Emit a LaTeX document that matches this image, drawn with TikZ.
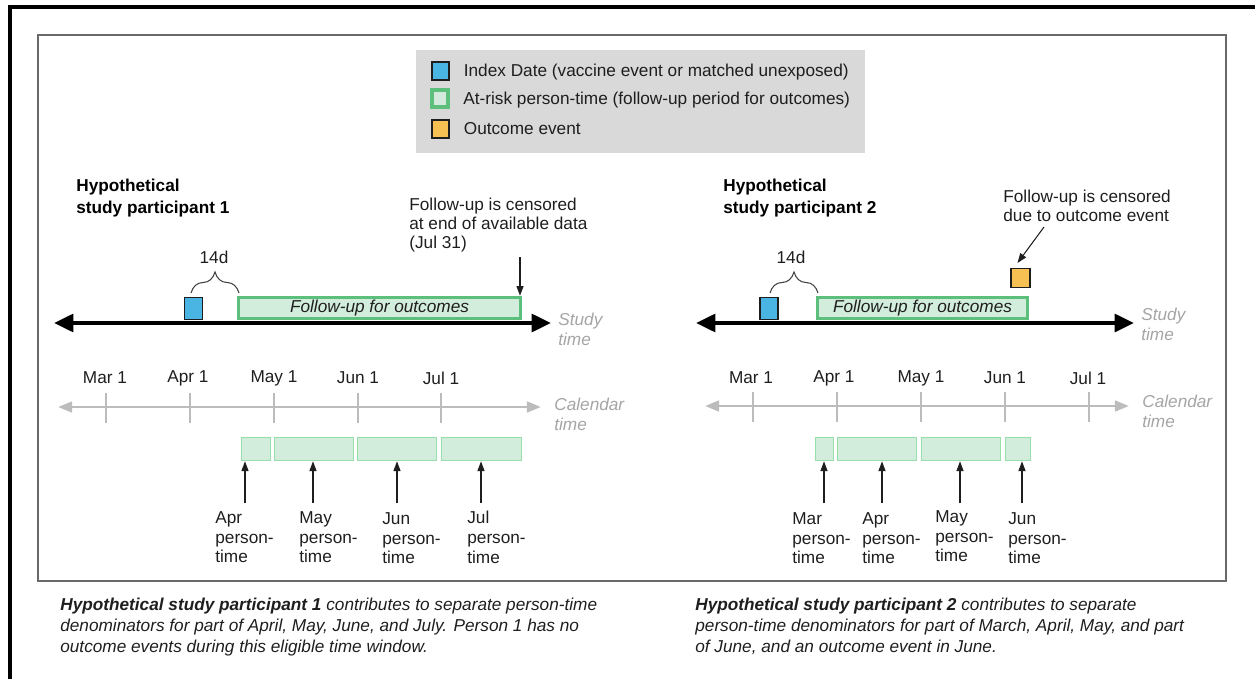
\documentclass[tikz,border=0pt]{standalone}
\usepackage{fontspec}
\setmainfont{Liberation Sans}
\usetikzlibrary{arrows.meta, positioning, decorations.pathreplacing}
\definecolor{idxblue}{RGB}{74,180,226}
\definecolor{fugreen}{RGB}{92,192,124}
\definecolor{fufill}{RGB}{210,237,220}
\definecolor{mgreen}{RGB}{150,222,170}
\definecolor{outorange}{RGB}{246,193,82}
\definecolor{leggray}{RGB}{217,217,217}
\definecolor{axisgray}{RGB}{188,188,188}
\definecolor{txtgray}{RGB}{165,165,165}
\definecolor{framegray}{RGB}{105,105,105}
\definecolor{ink}{RGB}{30,30,30}
\tikzstyle{txt} = [font=\fontsize{9.8}{11.3}\selectfont, text=ink, inner sep=0pt, align=left]
\tikzstyle{note} = [txt, font=\fontsize{9.8}{10.8}\selectfont]
\tikzstyle{ptitle} = [txt, font=\fontsize{9.8}{12.5}\selectfont\bfseries, text=black]
\tikzstyle{graytxt} = [txt, font=\fontsize{9.8}{11.3}\selectfont\itshape, text=txtgray]
\tikzstyle{caption} = [txt, font=\fontsize{9.8}{11.9}\selectfont\itshape, text=ink]
\tikzstyle{idxbox} = [rectangle, draw=ink, line width=0.6pt, fill=idxblue, inner sep=0pt, minimum width=0.36cm, minimum height=0.44cm]
\tikzstyle{outbox} = [rectangle, draw=ink, line width=0.6pt, fill=outorange, inner sep=0pt, minimum width=0.38cm, minimum height=0.38cm]
\tikzstyle{fubox} = [rectangle, draw=fugreen, line width=2pt, fill=fufill, inner sep=0pt, minimum height=0.42cm, font=\fontsize{9.8}{11}\selectfont\itshape, text=ink]
\tikzstyle{mbox} = [rectangle, draw=mgreen, line width=0.7pt, fill=fufill, inner sep=0pt, minimum height=0.47cm]
\tikzstyle{studyline} = [line width=2.3pt, {Triangle[length=11pt,width=10pt]}-{Triangle[length=11pt,width=10pt]}]
\tikzstyle{calaxis} = [axisgray, line width=1.6pt, {Triangle[length=8pt,width=6pt]}-{Triangle[length=8pt,width=6pt]}]
\tikzstyle{tick} = [axisgray, line width=0.8pt]
\tikzstyle{arrow} = [ink, line width=0.6pt, -{Triangle[length=5.5pt,width=4pt]}]
\tikzstyle{curly} = [draw=ink!85, line width=0.6pt, decorate, decoration={brace, amplitude=0.42cm}]

\begin{document}
\begin{tikzpicture}[x=0.02cm, y=-0.02cm]
\useasboundingbox (0,0) rectangle (1255,679);

% frames
\draw[line width=2.3pt] (10,685) -- (10,7) -- (1260,7);
\draw[framegray, line width=1pt] (38,35) rectangle (1226,581);

% legend
\fill[leggray] (416,50) rectangle (865,153);
\node (lgidx) [idxbox, minimum width=0.34cm, minimum height=0.36cm] at (440.5,71) {};
\node (lgfu) [mbox, draw=fugreen, line width=1.8pt, minimum width=0.32cm, minimum height=0.34cm, fill=fufill!80!leggray] at (440,98.5) {};
\node (lgout) [outbox, minimum width=0.34cm, minimum height=0.36cm] at (440.5,129) {};
\node (lgidxt) [txt, right=0.28cm of lgidx, yshift=-0.03cm] {Index Date (vaccine event or matched unexposed)};
\node (lgfut) [txt, right=0.27cm of lgfu, yshift=-0.04cm] {At-risk person-time (follow-up period for outcomes)};
\node (lgoutt) [txt, right=0.28cm of lgout] {Outcome event};

% participant 1
\node (title1) [ptitle, anchor=north west] at (76,179) {Hypothetical\\study participant 1};
\node (idx1) [idxbox] at (193.5,308.5) {};
\node (fu1) [fubox, minimum width=5.64cm] at (379.5,308) {Follow-up for outcomes};
\coordinate (br1a) at (191,293);
\coordinate (br1b) at (239,293);
\draw[curly] (br1a) -- (br1b);
\node (d1) [txt] at (214,257) {14d};
\node (cens1) [note, anchor=north west] at (409,198) {Follow-up is censored\\at end of available data\\(Jul 31)};
\coordinate (cens1a) at (520,257);
\draw[arrow] (cens1a) -- (cens1a |- fu1.north);
\coordinate (st1l) at (54,323);
\coordinate (st1r) at (551,323);
\draw[studyline] (st1l) -- (st1r);
\node (study1) [graytxt, anchor=north west] at (558,313) {Study\\time};

% calendar 1
\coordinate (cal1l) at (58,407);
\coordinate (cal1r) at (541,407);
\draw[calaxis] (cal1l) -- (cal1r);
\draw[tick] (106,393) -- (106,423);
\draw[tick] (190,393) -- (190,423);
\draw[tick] (274,393) -- (274,423);
\draw[tick] (358,393) -- (358,423);
\draw[tick] (441,393) -- (441,423);
\node (c1mar) [txt] at (105,378) {Mar 1};
\node (c1apr) [txt] at (188,378) {Apr 1};
\node (c1may) [txt] at (274,378) {May 1};
\node (c1jun) [txt] at (358,378) {Jun 1};
\node (c1jul) [txt] at (441,378) {Jul 1};
\node (cal1) [graytxt, anchor=north west] at (554,398) {Calendar\\time};

\node (p1m1) [mbox, minimum width=0.59cm] at (256,449) {};
\node (p1m2) [mbox, minimum width=1.59cm] at (314,449) {};
\node (p1m3) [mbox, minimum width=1.59cm] at (397,449) {};
\node (p1m4) [mbox, minimum width=1.61cm] at (481.5,449) {};
\coordinate (p1a1) at (245,503);
\coordinate (p1a2) at (313,503);
\coordinate (p1a3) at (397,503);
\coordinate (p1a4) at (481,503);
\draw[arrow] (p1a1) -- (p1a1 |- p1m1.south);
\draw[arrow] (p1a2) -- (p1a2 |- p1m2.south);
\draw[arrow] (p1a3) -- (p1a3 |- p1m3.south);
\draw[arrow] (p1a4) -- (p1a4 |- p1m4.south);
\node (p1l1) [txt, anchor=north west] at (215,511) {Apr\\person-\\time};
\node (p1l2) [txt, anchor=north west] at (299,511) {May\\person-\\time};
\node (p1l3) [txt, anchor=north west] at (382,512) {Jun\\person-\\time};
\node (p1l4) [txt, anchor=north west] at (467,511) {Jul\\person-\\time};

% participant 2
\node (title2) [ptitle, anchor=north west] at (723,179) {Hypothetical\\study participant 2};
\node (idx2) [idxbox] at (769,308.5) {};
\node (fu2) [fubox, minimum width=4.2cm] at (922.5,308) {Follow-up for outcomes};
\node (out2) [outbox] at (1020.5,278) {};
\coordinate (br2a) at (770,293);
\coordinate (br2b) at (818,293);
\draw[curly] (br2a) -- (br2b);
\node (d2) [txt] at (791,257) {14d};
\node (cens2) [note, anchor=north west] at (1003,190) {Follow-up is censored\\due to outcome event};
\coordinate (cens2a) at (1044,227);
\draw[arrow] (cens2a) -- ([xshift=-0.06cm, yshift=0.1cm]out2.north);
\coordinate (st2l) at (696,323);
\coordinate (st2r) at (1134,323);
\draw[studyline] (st2l) -- (st2r);
\node (study2) [graytxt, anchor=north west] at (1141,308) {Study\\time};

% calendar 2
\coordinate (cal2l) at (705,406);
\coordinate (cal2r) at (1129,406);
\draw[calaxis] (cal2l) -- (cal2r);
\draw[tick] (753,392) -- (753,422);
\draw[tick] (837,392) -- (837,422);
\draw[tick] (921,392) -- (921,422);
\draw[tick] (1005,392) -- (1005,422);
\draw[tick] (1089,392) -- (1089,422);
\node (c2mar) [txt] at (751,378) {Mar 1};
\node (c2apr) [txt] at (834,378) {Apr 1};
\node (c2may) [txt] at (921,378) {May 1};
\node (c2jun) [txt] at (1005,378) {Jun 1};
\node (c2jul) [txt] at (1088,378) {Jul 1};
\node (cal2) [graytxt, anchor=north west] at (1142,395) {Calendar\\time};

\node (p2m1) [mbox, minimum width=0.37cm] at (824.5,449) {};
\node (p2m2) [mbox, minimum width=1.59cm] at (877,449) {};
\node (p2m3) [mbox, minimum width=1.59cm] at (961,449) {};
\node (p2m4) [mbox, minimum width=0.51cm] at (1018,449) {};
\coordinate (p2a1) at (824,503);
\coordinate (p2a2) at (882,503);
\coordinate (p2a3) at (960,503);
\coordinate (p2a4) at (1022,503);
\draw[arrow] (p2a1) -- (p2a1 |- p2m1.south);
\draw[arrow] (p2a2) -- (p2a2 |- p2m2.south);
\draw[arrow] (p2a3) -- (p2a3 |- p2m3.south);
\draw[arrow] (p2a4) -- (p2a4 |- p2m4.south);
\node (p2l1) [txt, anchor=north west] at (792,512) {Mar\\person-\\time};
\node (p2l2) [txt, anchor=north west] at (862,512) {Apr\\person-\\time};
\node (p2l3) [txt, anchor=north west] at (935,510) {May\\person-\\time};
\node (p2l4) [txt, anchor=north west] at (1008,512) {Jun\\person-\\time};

% captions
\node (cap1) [caption, anchor=north west] at (60,598) {\textbf{Hypothetical study participant 1} contributes to separate person-time\\denominators for part of April, May, June, and July. Person 1 has no\\outcome events during this eligible time window.};
\node (cap2) [caption, anchor=north west] at (695,598) {\textbf{Hypothetical study participant 2} contributes to separate\\person-time denominators for part of March, April, May, and part\\of June, and an outcome event in June.};
\end{tikzpicture}
\end{document}
